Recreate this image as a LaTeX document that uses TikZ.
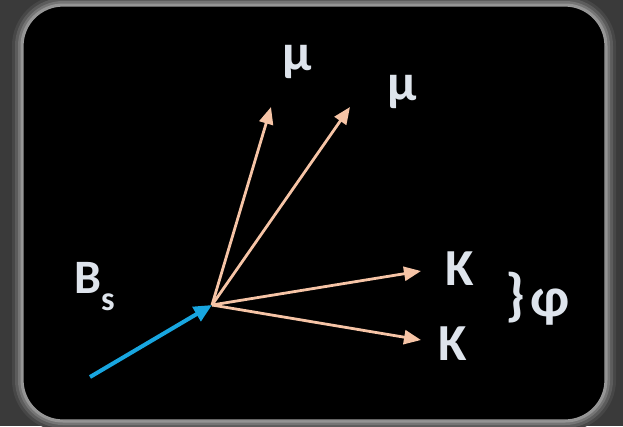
\documentclass[tikz,border=0pt]{standalone}
\usepackage{fontspec}
\setmainfont{Carlito}
\usetikzlibrary{arrows.meta}
\definecolor{slidebg}{RGB}{58,58,58}
\definecolor{decayblue}{RGB}{24,166,224}
\definecolor{decaypeach}{RGB}{246,196,166}
\definecolor{labelgrey}{RGB}{222,228,236}
\tikzset{
    bsarrow/.style={-{Triangle[length=18pt, width=16pt]}, line width=4pt, decayblue},
    daughter/.style={-{Triangle[length=17pt, width=14pt]}, line width=2.8pt, decaypeach},
    particle/.style={font=\fontsize{52}{56}\selectfont\bfseries, text=labelgrey,
                     inner sep=0pt, anchor=base west},
    slideframe/.style={rounded corners=40pt},
}

\begin{document}
\begin{tikzpicture}[x=1pt, y=-1pt]
            \useasboundingbox (0,0) rectangle (623,426);
            \fill[slidebg] (0,0) rectangle (623,426);
            % soft glow round the black panel
            \foreach \w/\c in {22/28, 16/36, 10/46, 5/58}
                \draw[slideframe, line width=\w pt, white!\c!black] (23,6) rectangle (605,420);
            \fill[slideframe, black] (23,6) rectangle (605,420);
            \draw[slideframe, line width=1.2pt, white!60!black] (23,6) rectangle (605,420);
            
            \coordinate (bsrc) at (90,377);
            \coordinate (vtx) at (212,305);
            \coordinate (mutipa) at (271,107);
            \coordinate (mutipb) at (350,107);
            \coordinate (ktipa) at (421,271);
            \coordinate (ktipb) at (421,340);
            
            \draw[bsarrow] (bsrc) -- (vtx);
            \draw[daughter] (vtx) -- (mutipa);
            \draw[daughter] (vtx) -- (mutipb);
            \draw[daughter] (vtx) -- (ktipa);
            \draw[daughter] (vtx) -- (ktipb);
            
            \node[particle] (mua) at (282,70) {μ};
            \node[particle] (mub) at (387,100) {μ};
            \node[particle] (ka) at (445,285) {K};
            \node[particle] (kb) at (438,360) {K};
            \node[particle, font=\fontsize{58}{62}\selectfont\bfseries] (brace) at (505,314) {\}};
            \node[particle, font=\fontsize{56}{60}\selectfont\bfseries] (phi) at (530,316) {φ};
            \node[particle, font=\fontsize{48}{52}\selectfont\bfseries] (bs) at (74,293)
                {B\raisebox{-17pt}{\fontsize{34}{36}\selectfont s}};
        \end{tikzpicture}
\end{document}
